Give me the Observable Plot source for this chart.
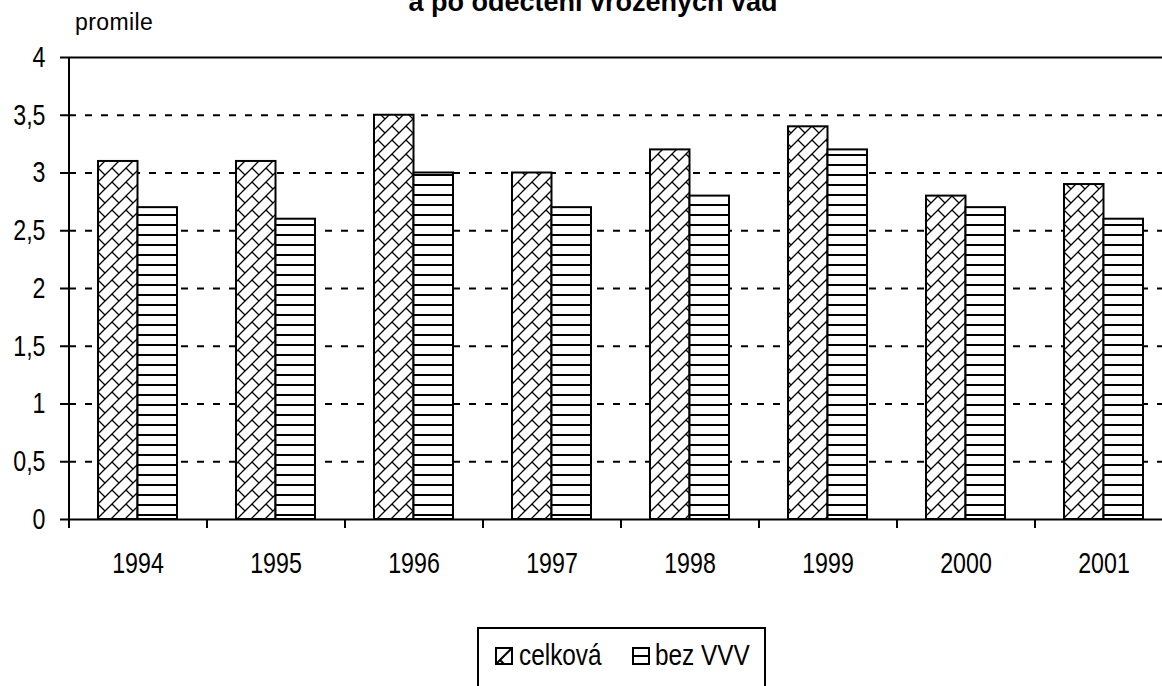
<!DOCTYPE html>
<html><head><meta charset="utf-8">
<script src="https://cdn.jsdelivr.net/npm/d3@7"></script>
<script src="https://cdn.jsdelivr.net/npm/@observablehq/plot@0.6"></script>
<style>
html,body{margin:0;padding:0;background:#fff;}
body{width:1162px;height:686px;overflow:hidden;position:relative;font-family:"Liberation Sans",Arial,sans-serif;color:#000;}
#title{position:absolute;left:0;width:1186px;top:-11px;text-align:center;font:bold 27px/27px "Liberation Sans",Arial,sans-serif;white-space:nowrap;}
#unit{position:absolute;left:75px;top:11px;font:23px/23px "Liberation Sans",Arial,sans-serif;letter-spacing:0.4px;}
#chart{position:absolute;left:0;top:0;width:1180px;}
#chart svg{max-width:none !important;}
#legend{position:absolute;left:477px;top:627px;width:289px;height:80px;border:2px solid #000;box-sizing:border-box;}
#legend .sw{position:absolute;top:18px;}
#legend .tx{position:absolute;top:12px;font:29px/29px "Liberation Sans",Arial,sans-serif;white-space:nowrap;transform:scaleX(0.84);transform-origin:0 0;}
</style>
</head><body>
<div id="title">a po odečtení vrozených vad</div>
<div id="unit">promile</div>
<div id="chart"></div>
<div id="legend"></div>
<script>
const years = ["1994","1995","1996","1997","1998","1999","2000","2001"];
const seriesNames = ["celková","bez VVV"];
const celkova = [3.1, 3.1, 3.5, 3.0, 3.2, 3.4, 2.8, 2.9];
const bezVVV  = [2.7, 2.6, 3.0, 2.7, 2.8, 3.2, 2.7, 2.6];
const yTicks = [0, 0.5, 1, 1.5, 2, 2.5, 3, 3.5, 4];
const gridTicks = [0.5, 1, 1.5, 2, 2.5, 3, 3.5];

const fmt = d => String(d).replace(".", ",");
const font = '"Liberation Sans", Arial, sans-serif';

const chart = Plot.plot({
  width: 1180,
  height: 600,
  marginLeft: 69,
  marginRight: 7,
  marginTop: 57,
  marginBottom: 81,
  style: {fontFamily: font, fontSize: "29px", color: "#000", background: "transparent", overflow: "visible", maxWidth: "none"},
  x: {type: "band", domain: years, paddingInner: 0.427, paddingOuter: 0.2135, axis: null},
  y: {domain: [0, 4], axis: null},
  marks: [
    Plot.ruleY(gridTicks, {stroke: "#000", strokeWidth: 2, strokeDasharray: "7,9"}),
    Plot.barY(celkova, {x: years, y: celkova, fill: "url(#patCelkova)", stroke: "#000", strokeWidth: 2, insetRight: 39.5}),
    Plot.barY(bezVVV, {x: years, y: bezVVV, fill: "url(#patBez)", stroke: "#000", strokeWidth: 2, insetLeft: 39.5}),
    Plot.ruleY([0], {stroke: "#000", strokeWidth: 2}),
    Plot.ruleY([4], {stroke: "#000", strokeWidth: 2}),
    Plot.ruleX([years[0]], {x: d => d, dx: -69, y1: 0, y2: 4, stroke: "#000", strokeWidth: 2}),
    Plot.axisY({ticks: yTicks, tickSize: 9, tickPadding: 15, tickFormat: fmt, strokeWidth: 2, label: null, fontSize: 29}),
    Plot.axisX({ticks: years, tickSize: 9, text: null, dx: -69, strokeWidth: 2, label: null}),
    Plot.axisX({ticks: years, tickSize: 0, tickPadding: 33, label: null, fontSize: 29})
  ]
});

const defs = `
<defs>
  <pattern id="patCelkova" patternUnits="userSpaceOnUse" width="14" height="14">
    <rect width="14" height="14" fill="#fff"/>
    <path d="M0,14 L14,0 M-2,2 L2,-2 M12,16 L16,12 M0,0 L7,7" stroke="#000" stroke-width="1.3" fill="none"/>
  </pattern>
  <pattern id="patBez" patternUnits="userSpaceOnUse" width="10" height="10">
    <rect width="10" height="10" fill="#fff"/>
    <path d="M0,5 L10,5" stroke="#000" stroke-width="2" fill="none"/>
  </pattern>
</defs>`;
chart.insertAdjacentHTML("afterbegin", defs);
document.getElementById("chart").appendChild(chart);

// narrow the axis tick labels horizontally (reference uses a condensed face)
chart.querySelectorAll("text").forEach(el => {
  const L = el.getComputedTextLength();
  if (L > 0) {
    el.setAttribute("textLength", (L * 0.8).toFixed(2));
    el.setAttribute("lengthAdjust", "spacingAndGlyphs");
  }
});

const legend = document.getElementById("legend");
const swatches = {
  "celková": `<svg width="18" height="18" viewBox="0 0 18 18"><rect x="1" y="1" width="16" height="16" fill="#fff" stroke="#000" stroke-width="2"/><path d="M2,16 L16,2 M5,13 L9,17" stroke="#000" stroke-width="2"/></svg>`,
  "bez VVV": `<svg width="18" height="18" viewBox="0 0 18 18"><rect x="1" y="1" width="16" height="16" fill="#fff" stroke="#000" stroke-width="2"/><path d="M1,9 L17,9" stroke="#000" stroke-width="2"/></svg>`
};
const swLeft = [16, 153];
const txLeft = [40, 176];
seriesNames.forEach((s, i) => {
  const sw = document.createElement("div");
  sw.className = "sw";
  sw.style.left = swLeft[i] + "px";
  sw.innerHTML = swatches[s];
  legend.appendChild(sw);
  const tx = document.createElement("div");
  tx.className = "tx";
  tx.style.left = txLeft[i] + "px";
  tx.textContent = s;
  legend.appendChild(tx);
});
</script>
</body></html>
